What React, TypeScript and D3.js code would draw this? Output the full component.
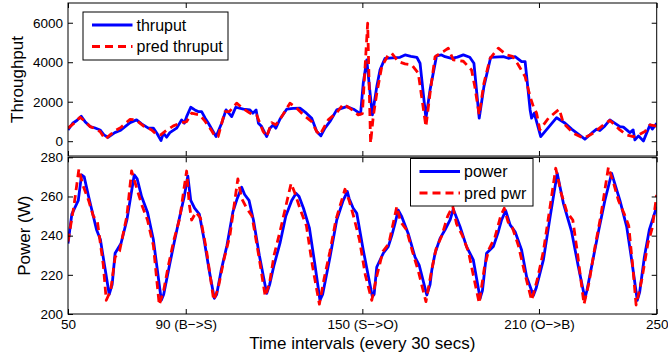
import { useEffect, useRef } from "react";
import * as d3 from "d3";

type Pt = [number, number];

// [time interval, throughput]
const thruput: Pt[] = [
  [50, 570], [51.6, 910], [53, 1050], [54.5, 1260], [55.8, 990], [57.5, 740], [59, 680], [60.9, 570],
  [62.2, 320], [63.6, 200], [65.9, 435], [67.7, 540], [69.4, 740], [71.1, 940], [73.3, 1080], [75, 880],
  [77.3, 660], [79, 660], [80.2, 405], [81.6, 30], [82.4, 405], [83.5, 200], [84.6, 435], [86.9, 660],
  [88.6, 1080], [89.5, 910], [90.3, 1245], [91.7, 1720], [93.1, 1585], [94.2, 1500], [95.4, 1500],
  [96.6, 1165], [97.7, 910], [99.3, 490], [100.3, 235], [102.2, 910], [103.7, 1585], [105.6, 1245],
  [107, 1720], [109.6, 1620], [111.8, 1585], [112.8, 1420], [113.9, 1585], [114.7, 910], [115.8, 740],
  [117.5, 235], [118.6, 660], [119.7, 825], [120.6, 660], [122, 1110], [124.3, 1620], [126.5, 1660],
  [128.8, 1670], [131, 1420], [132.8, 1165], [134.5, 490], [135.9, 270], [137.3, 660], [139, 1000],
  [141.3, 1585], [144.7, 1750], [147, 1620], [149.4, 1380], [150.3, 2935], [151.5, 4116], [152.4, 2765],
  [153.4, 1330], [154.9, 2765], [156, 3610], [157.7, 4200], [162.8, 4250], [164.5, 4370], [166.5, 4300],
  [168.5, 4250], [169.6, 3950], [171.6, 1165], [173, 2600], [175.2, 4320], [176.9, 4370], [178.1, 4280],
  [180.3, 4200], [182.3, 4260], [184.3, 4370], [186.5, 4250], [187.9, 3950], [189.7, 1165], [191.3, 2765],
  [193.6, 4250], [197.9, 4280], [199.6, 4200], [201.9, 4280], [204.1, 4030], [205.3, 4030], [207, 1585],
  [207.5, 1165], [208.4, 1420], [210.6, 235], [216, 1190], [218.9, 910], [221.1, 610], [225.6, 100],
  [227.9, 405], [229.6, 610], [230.7, 540], [232.4, 775], [234.1, 1080], [237.5, 740], [238.7, 710],
  [240.9, 435], [242, 570], [242.6, 66], [243.8, 270], [245.5, 15], [247.7, 825], [248.5, 610], [250, 910],
];

const predThruput: Pt[] = [
  [50, 660], [52, 900], [54.1, 1215], [55.8, 1000], [57.5, 740], [59, 650], [60.9, 490], [62.6, 100],
  [64.3, 320], [65.9, 520], [68, 700], [71.1, 1110], [73, 1080], [75.6, 775], [78.4, 570], [80.2, 320],
  [81.5, 320], [82.9, 490], [85.8, 775], [88, 910], [90.3, 990], [92, 1420], [94.8, 1330], [96.6, 1000],
  [98.5, 600], [100, 235], [101, 235], [103.3, 1500], [104.8, 1500], [107.3, 1925], [109.5, 1650],
  [111.8, 1420], [114.1, 1330], [116.3, 490], [117.5, 235], [119.2, 940], [120.6, 830], [122.6, 1245],
  [125.4, 1925], [127.7, 1670], [130, 1330], [132.8, 990], [134.5, 490], [135.6, 320], [138.4, 1080],
  [141.3, 1450], [143.5, 1873], [145.8, 1670], [148.6, 1330], [150, 1400], [151.8, 5975], [152.8, -100],
  [153.7, 1245], [154.9, 2430], [156.6, 3780], [158.8, 4370], [160, 4455], [162.2, 4030], [164.5, 3914],
  [166.8, 3863], [169, 3443], [171.6, 740], [173, 2430], [174.7, 4283], [177.5, 4537], [179.2, 4710],
  [180.9, 4116], [184.3, 4050], [187.1, 3610], [188.2, 2765], [189.7, 1330], [191.3, 2935], [193.4, 4200],
  [196.2, 4710], [199, 4370], [201, 4300], [203, 3863], [205.3, 3270], [207, 2258], [208.1, 1752],
  [209.2, 1418], [210.3, 572], [213.2, 1165], [216.9, 1620], [218.3, 911], [221.7, 405], [225.1, 150],
  [228.5, 405], [231.9, 825], [234.1, 1050], [237.5, 572], [239.8, 320], [242, 235], [243.5, 290],
  [246, 487], [247.7, 825], [250, 760],
];

// [time interval, power (W)]
const power: Pt[] = [
  [50, 236], [51.3, 251], [53.5, 258], [54.6, 271], [55.5, 270], [57, 260], [59.7, 243], [61, 238],
  [62.5, 224], [64, 210], [65, 215], [66, 231], [68, 236], [70, 248], [72.5, 271], [73.5, 269], [75, 260],
  [77, 252], [79, 238], [81.7, 207], [82.5, 210], [84.5, 225], [86, 236], [88, 250], [89.5, 260],
  [90.7, 270.5], [91.7, 258], [93, 254], [94.6, 251], [96, 240], [98, 222], [99.7, 208], [100.5, 210],
  [102, 222], [104, 235], [106, 252], [107.5, 259], [109, 264.7], [110, 261], [111.5, 258], [113, 248],
  [115, 230], [117.5, 210.5], [118.5, 215], [120, 225], [122, 236], [124, 250], [126, 258], [127.5, 261.6],
  [128.5, 260], [130, 254], [132, 244], [134, 224], [135.6, 207], [136.5, 210], [139, 229], [141.3, 248],
  [143.5, 258], [144.9, 262.5], [145.5, 259], [146.9, 254], [148.1, 251.4], [150.3, 232.7], [153.4, 208.8],
  [154, 210], [154.9, 224], [157.1, 231], [158.8, 234.4], [160, 240], [161.1, 246.3], [162.2, 253],
  [163.4, 249.7], [165.6, 241], [167.9, 229], [169.3, 225], [171.9, 209.7], [173, 215], [173.6, 222.5],
  [174.7, 231], [176.4, 238.6], [178.1, 243], [179.8, 248], [180.9, 253.5], [183.2, 244.6], [185.4, 234.4],
  [187.7, 227.6], [190, 208], [190.8, 212], [192.2, 231], [194.5, 234.4], [196.2, 242], [197.3, 248],
  [198.7, 252.8], [200.2, 245.5], [201.9, 242], [204.1, 232.7], [205.8, 219], [208.1, 209.4], [209, 213],
  [211.5, 227.6], [213.8, 249.7], [216.2, 271.8], [218.3, 256.5], [221.1, 242], [223.4, 224], [225.6, 208],
  [226.3, 212], [228.5, 229], [230.2, 242], [232.4, 258], [234.7, 271.8], [237.5, 258], [239.8, 244.6],
  [241.5, 227.6], [243.4, 207], [244.2, 211], [245.8, 229], [247.5, 243], [250, 254.8],
];

const predPower: Pt[] = [
  [50, 237], [52, 255], [53.7, 274], [55, 266], [57, 258], [58.6, 250], [60, 247], [62, 225], [63, 207],
  [64.5, 212], [66, 229], [67.5, 232], [70, 250], [71.6, 273], [73, 266], [75, 256], [77, 248], [79, 235],
  [81, 204.6], [82.5, 212], [84, 224], [86, 238], [88, 249], [89.5, 265], [90.3, 273], [91.2, 256],
  [92, 248], [93.5, 252], [95, 249], [97, 233], [99.5, 207], [101, 213], [103, 228], [105, 240],
  [107.7, 269], [109, 259], [110.7, 254], [112.5, 250], [115, 228], [117, 209], [118.5, 216], [120, 230],
  [122, 242], [125.8, 266.7], [127, 262], [129, 253], [131, 245], [133, 225], [135.4, 205], [137, 218],
  [139, 232], [141, 248], [144.1, 263.7], [145.5, 258], [147, 250], [149, 238], [151, 220], [153.2, 207],
  [155, 220], [157, 232], [159, 236], [161.7, 254.8], [163, 247], [165, 243], [167, 232], [169, 222],
  [171.6, 206.3], [173.5, 222], [175, 233], [177, 240], [179, 250], [180.7, 255], [182, 246], [184, 240],
  [186, 232], [189.7, 205.5], [191.5, 224], [193, 233], [195, 239], [197, 250], [198.2, 254], [199.5, 247],
  [201, 244], [203, 235], [205, 222], [207.5, 207], [209.5, 218], [211.5, 232], [213.5, 252], [215.7, 274.4],
  [217.5, 262], [219.5, 252], [221.5, 248], [223, 232], [225.3, 205], [227, 216], [229, 234], [231, 250],
  [233.6, 275], [235.5, 266], [237, 258], [239, 251], [240.5, 245], [242, 222], [243, 204.6], [245, 218],
  [247, 236], [248.5, 244], [250, 260.8],
];

const xTicks = [50, 90, 150, 210, 250];
const xTickLabels = ["50", "90 (B−>S)", "150 (S−>O)", "210 (O−>B)", "250"];
const thruTicks = [0, 2000, 4000, 6000];
const powerTicks = [200, 220, 240, 260, 280];

const W = 668;
const H = 356;
const font = "'Liberation Sans', Arial, Helvetica, sans-serif";
const blue = "#0000ff";
const red = "#ff0000";

export default function App() {
  const svgRef = useRef<SVGSVGElement>(null);

  useEffect(() => {
    if (!svgRef.current) return;
    const svg = d3.select(svgRef.current);
    svg.selectAll("*").remove();

    svg.append("rect").attr("width", W).attr("height", H).attr("fill", "#fff");

    const x = d3.scaleLinear().domain([50, 250]).range([68, 656.7]);
    const yT = d3.scaleLinear().domain([-750, 7000]).range([156, 3]);
    const yP = d3.scaleLinear().domain([200, 280]).range([314, 157.3]);

    const panel = (
      id: string,
      y: d3.ScaleLinear<number, number>,
      yTicks: number[],
      solid: Pt[],
      dashed: Pt[],
      labels: boolean
    ) => {
      const [x0, x1] = x.range();
      const [yb, yt] = y.range();
      const g = svg.append("g");

      g.append("clipPath")
        .attr("id", id)
        .append("rect")
        .attr("x", x0)
        .attr("y", yt)
        .attr("width", x1 - x0)
        .attr("height", yb - yt);

      const line = d3
        .line<Pt>()
        .x((d) => x(d[0]))
        .y((d) => y(d[1]));

      const lines = g.append("g").attr("clip-path", `url(#${id})`);
      lines
        .append("path")
        .attr("d", line(solid))
        .attr("fill", "none")
        .attr("stroke", blue)
        .attr("stroke-width", 2.8)
        .attr("stroke-linejoin", "round");
      lines
        .append("path")
        .attr("d", line(dashed))
        .attr("fill", "none")
        .attr("stroke", red)
        .attr("stroke-width", 2.8)
        .attr("stroke-dasharray", "8,5")
        .attr("stroke-linejoin", "round");

      const style = (a: d3.Selection<SVGGElement, unknown, null, undefined>) => {
        a.select(".domain").remove();
        a.selectAll(".tick line").attr("stroke", "#000");
        a.selectAll(".tick text")
          .attr("fill", "#000")
          .attr("font-size", 13.5)
          .attr("font-family", font);
      };

      g.append("g")
        .attr("transform", `translate(${x0},0)`)
        .call(
          d3
            .axisLeft(y)
            .tickValues(yTicks)
            .tickSizeInner(-5)
            .tickSizeOuter(0)
            .tickPadding(5)
            .tickFormat(d3.format("d"))
        )
        .call(style);
      g.append("g")
        .attr("transform", `translate(${x1},0)`)
        .call(d3.axisRight(y).tickValues(yTicks).tickSizeInner(-5).tickSizeOuter(0).tickFormat(() => ""))
        .call(style);
      g.append("g")
        .attr("transform", `translate(0,${yt})`)
        .call(d3.axisTop(x).tickValues(xTicks).tickSizeInner(-5).tickSizeOuter(0).tickFormat(() => ""))
        .call(style);
      g.append("g")
        .attr("transform", `translate(0,${yb})`)
        .call(
          d3
            .axisBottom(x)
            .tickValues(xTicks)
            .tickSizeInner(-5)
            .tickSizeOuter(0)
            .tickPadding(5)
            .tickFormat((_, i) => (labels ? xTickLabels[i] : ""))
        )
        .call(style);

      g.append("rect")
        .attr("x", x0)
        .attr("y", yt)
        .attr("width", x1 - x0)
        .attr("height", yb - yt)
        .attr("fill", "none")
        .attr("stroke", "#000")
        .attr("stroke-width", 1);
    };

    panel("clip-thru", yT, thruTicks, thruput, predThruput, false);
    panel("clip-pwr", yP, powerTicks, power, predPower, true);

    const legend = (bx: number, by: number, bw: number, bh: number, names: string[]) => {
      const g = svg.append("g");
      g.append("rect")
        .attr("x", bx)
        .attr("y", by)
        .attr("width", bw)
        .attr("height", bh)
        .attr("fill", "#fff")
        .attr("stroke", "#000")
        .attr("stroke-width", 1);
      names.forEach((name, i) => {
        const ly = by + 13 + i * 21.5;
        g.append("line")
          .attr("x1", bx + 9)
          .attr("x2", bx + 49.5)
          .attr("y1", ly)
          .attr("y2", ly)
          .attr("stroke", i === 0 ? blue : red)
          .attr("stroke-width", 2.8)
          .attr("stroke-dasharray", i === 0 ? null : "8,5");
        g.append("text")
          .attr("x", bx + 53.5)
          .attr("y", ly)
          .attr("dy", "0.35em")
          .attr("font-size", 16)
          .attr("font-family", font)
          .attr("fill", "#000")
          .text(name);
      });
    };

    legend(83, 12, 145, 48, ["thruput", "pred thruput"]);
    legend(410.5, 158.5, 122.5, 47.5, ["power", "pred pwr"]);

    const label = (text: string, tx: number, ty: number, rotate: boolean) =>
      svg
        .append("text")
        .attr("transform", `translate(${tx},${ty})${rotate ? " rotate(-90)" : ""}`)
        .attr("text-anchor", "middle")
        .attr("font-size", 17)
        .attr("font-family", font)
        .attr("fill", "#000")
        .text(text);

    label("Throughput", 23, (yT.range()[0] + yT.range()[1]) / 2, true);
    label("Power (W)", 29.5, (yP.range()[0] + yP.range()[1]) / 2, true);
    label("Time intervals (every 30 secs)", (x.range()[0] + x.range()[1]) / 2, 349, false);
  }, []);

  return (
    <svg
      ref={svgRef}
      width={W}
      height={H}
      style={{ position: "absolute", left: 0, top: 0 }}
    />
  );
}
